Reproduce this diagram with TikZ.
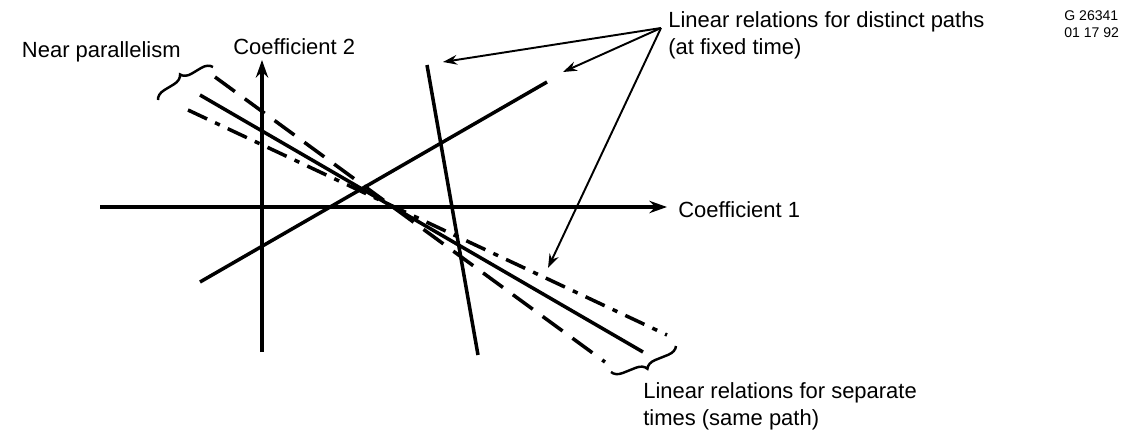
\documentclass[tikz,border=0pt]{standalone}
\usepackage{fontspec}
\setmainfont{Liberation Sans}
\usepackage{tikz}
\usetikzlibrary{arrows.meta, decorations.pathreplacing, calc}

\begin{document}
\begin{tikzpicture}[
    x=0.02cm, y=-0.02cm,
    >=Stealth,
    % coefficient axes with a filled head
    axis/.style={line width=2.3pt, -{Stealth[length=10pt, width=7pt]}},
    % one linear relation per line
    relline/.style={line width=2pt},
    steepdash/.style={line width=2pt, dash pattern=on 14pt off 7pt},
    flatdash/.style={line width=2pt,
                     dash pattern=on 12pt off 5pt on 3pt off 5pt},
    % thin pointer from a label
    leader/.style={line width=1.1pt, -{Stealth[length=8pt, width=5.5pt]}},
    bracket/.style={line width=1.4pt, decorate,
                    decoration={brace, amplitude=#1}},
    bracket/.default=6pt,
    lbl/.style={font=\fontsize{12.5}{15.5}\selectfont, inner sep=0pt,
                anchor=west, align=left},
    idlbl/.style={font=\fontsize{8}{10}\selectfont, inner sep=0pt,
                  anchor=west, align=left}
]
\useasboundingbox (0,0) rectangle (1137,436);
% ── AXES ──────────────────────────────────────────────────────
\coordinate (xlo) at (100,207);
\coordinate (xhi) at (667,207);
\coordinate (ylo) at (262,352);
\coordinate (yhi) at (262,60);
\draw[axis] (xlo) -- (xhi);
\draw[axis] (ylo) -- (yhi);
\node[lbl] (coef1) at (678,210) {Coefficient 1};
\node[lbl] (coef2) at (233,47)  {Coefficient 2};
% ── NEAR-PARALLEL LINES (same path, separate times) ───────────
\coordinate (steepA) at (215,77);
\coordinate (steepB) at (605,362);
\coordinate (midA)   at (200,95);
\coordinate (midB)   at (643,352);
\coordinate (flatA)  at (188,110);
\coordinate (flatB)  at (667,335);
\draw[steepdash] (steepA) -- (steepB);
\draw[relline]   (midA)   -- (midB);
\draw[flatdash]  (flatA)  -- (flatB);
% ── DISTINCT PATHS (fixed time) ───────────────────────────────
\coordinate (riseA) at (200,282);
\coordinate (riseB) at (547,82);
\coordinate (dropA) at (427,65);
\coordinate (dropB) at (478,355);
\draw[relline] (riseA) -- (riseB);
\draw[relline] (dropA) -- (dropB);
% ── BRACES ────────────────────────────────────────────────────
\coordinate (nbA) at (158,100);
\coordinate (nbB) at (213,67);
\draw[bracket] (nbA) -- (nbB);
\coordinate (sbA) at (676,346);
\coordinate (sbB) at (611,372);
\draw[bracket] (sbA) -- (sbB);
% ── LABELS + POINTERS ─────────────────────────────────────────
\node[lbl, anchor=east] (nearpar) at (181,52) {Near parallelism};
\coordinate (hub)  at (661,28);
\coordinate (tipA) at (443,62);
\coordinate (tipB) at (563,72);
\coordinate (tipC) at (548,268);
\draw[leader] (hub) -- (tipA);
\draw[leader] (hub) -- (tipB);
\draw[leader] (hub) -- (tipC);
\node[lbl] (distinct) at (668,35)
    {Linear relations for distinct paths\\(at fixed time)};
\node[lbl] (separate) at (643,406)
    {Linear relations for separate\\times (same path)};
\node[idlbl] (figid) at (1064,24) {G 26341\\01 17 92};
\end{tikzpicture}
\end{document}
